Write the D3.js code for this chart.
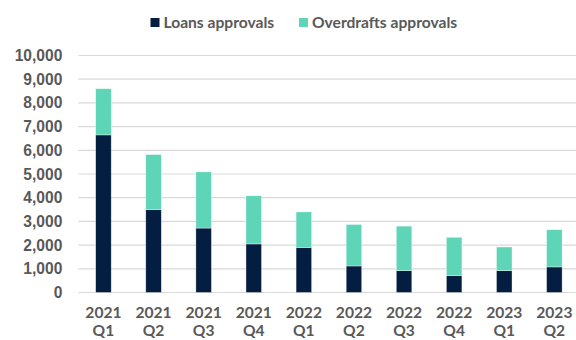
<!DOCTYPE html>
<html>
<head>
<meta charset="utf-8">
<script src="https://cdn.jsdelivr.net/npm/d3@7"></script>
<style>
  html, body { margin: 0; padding: 0; background: #fff; }
  svg { display: block; font-family: Lato, "Open Sans", sans-serif; }
</style>
</head>
<body>
<svg id="chart" width="576" height="340"></svg>
<script>
// Quarterly approvals, stacked: loans at the base, overdrafts on top
const years    = ["2021", "2021", "2021", "2021", "2022", "2022", "2022", "2022", "2023", "2023"];
const quarters = ["Q1", "Q2", "Q3", "Q4", "Q1", "Q2", "Q3", "Q4", "Q1", "Q2"];
const loans      = [6650, 3500, 2720, 2050, 1900, 1120, 920, 710, 920, 1080];
const overdrafts = [1950, 2320, 2370, 2030, 1500, 1750, 1880, 1620, 1000, 1570];
const yTicks = [0, 1000, 2000, 3000, 4000, 5000, 6000, 7000, 8000, 9000, 10000];
const seriesNames = ["Loans approvals", "Overdrafts approvals"];
const seriesColors = ["#041e42", "#5dd5b6"];

const svg = d3.select("#chart");
const margin = { left: 78.4, right: -3.4, top: 55.5, bottom: 47.5 };
const W = 576, H = 340;
const fontSize = 15.6;

const keys = quarters.map((q, i) => i);
const x = d3.scaleBand()
  .domain(keys)
  .range([margin.left, W - margin.right])
  .paddingInner(0.69)
  .paddingOuter(0.345);

const y = d3.scaleLinear()
  .domain([0, 10000])
  .range([H - margin.bottom, margin.top]);

// gridlines
svg.append("g")
  .selectAll("line")
  .data(yTicks)
  .join("line")
  .attr("x1", margin.left)
  .attr("x2", W - margin.right)
  .attr("y1", d => y(d))
  .attr("y2", d => y(d))
  .attr("stroke", "#d9d9d9")
  .attr("stroke-width", 1.2);

// y axis labels
const yAxis = d3.axisLeft(y)
  .tickValues(yTicks)
  .tickFormat(d3.format(","))
  .tickSize(0)
  .tickPadding(0);
const gy = svg.append("g")
  .attr("transform", `translate(${margin.left - 16},0)`)
  .call(yAxis);
gy.select(".domain").remove();
gy.selectAll("text")
  .attr("fill", "#595959")
  .attr("font-size", fontSize)
  .attr("font-weight", "bold");

// stacked bars
const rows = keys.map(i => ({ i, loans: loans[i], overdrafts: overdrafts[i] }));
const stack = d3.stack().keys(["loans", "overdrafts"]);
const layers = stack(rows);

svg.append("g")
  .selectAll("g")
  .data(layers)
  .join("g")
  .attr("fill", (d, k) => seriesColors[k])
  .selectAll("rect")
  .data(d => d)
  .join("rect")
  .attr("x", d => x(d.data.i))
  .attr("width", x.bandwidth())
  .attr("y", d => y(d[1]))
  .attr("height", d => y(d[0]) - y(d[1]))
  .attr("stroke", "#ffffff")
  .attr("stroke-opacity", 0.6)
  .attr("stroke-width", 0.6);

// x axis labels: year over quarter
const xl = svg.append("g")
  .selectAll("text")
  .data(keys)
  .join("text")
  .attr("x", i => x(i) + x.bandwidth() / 2)
  .attr("text-anchor", "middle")
  .attr("fill", "#595959")
  .attr("font-size", fontSize)
  .attr("font-weight", "bold");
xl.append("tspan")
  .attr("x", i => x(i) + x.bandwidth() / 2)
  .attr("y", 318)
  .text(i => years[i]);
xl.append("tspan")
  .attr("x", i => x(i) + x.bandwidth() / 2)
  .attr("y", 336)
  .text(i => quarters[i]);

// legend
const legendX = [150.5, 299];
const lg = svg.append("g")
  .selectAll("g")
  .data(seriesNames)
  .join("g")
  .attr("transform", (d, k) => `translate(${legendX[k]},18)`);
lg.append("rect")
  .attr("width", 9)
  .attr("height", 9)
  .attr("fill", (d, k) => seriesColors[k]);
lg.append("text")
  .attr("x", 13)
  .attr("y", 9.5)
  .attr("fill", "#595959")
  .attr("font-size", fontSize)
  .attr("font-weight", "bold")
  .text(d => d);
</script>
</body>
</html>
